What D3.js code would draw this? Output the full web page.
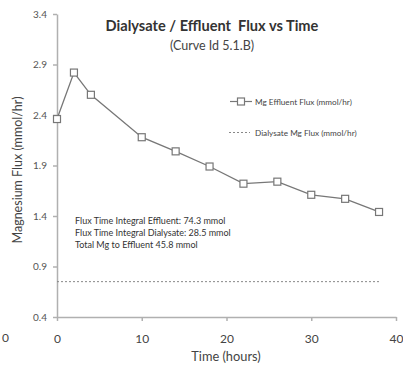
<!DOCTYPE html>
<html><head><meta charset="utf-8">
<script src="https://cdn.jsdelivr.net/npm/d3@7"></script>
<style>html,body{margin:0;padding:0;background:#fff;}svg{display:block;font-family:Lato,"Open Sans",sans-serif;}</style>
</head><body>
<script>
const times = [0, 2, 4, 10, 14, 18, 22, 26, 30, 34, 38];
const effluentFlux = [2.36, 2.82, 2.60, 2.18, 2.04, 1.89, 1.72, 1.74, 1.61, 1.57, 1.44];
const dialysateTimes = [0, 38];
const dialysateFlux = [0.75, 0.75];
const xTicks = [0, 10, 20, 30, 40];
const yTicks = [0.4, 0.9, 1.4, 1.9, 2.4, 2.9, 3.4];
const notes = ["Flux Time Integral Effluent: 74.3 mmol", "Flux Time Integral Dialysate: 28.5 mmol", "Total Mg to Effluent 45.8 mmol"];

const W = 403, H = 368;
const svg = d3.select("body").append("svg").attr("width", W).attr("height", H);
const x = d3.scaleLinear().domain([0, 40]).range([57, 396]);
const y = d3.scaleLinear().domain([0.4, 3.4]).range([317, 14]);
const axisCol = "#b0b0b0", textCol = "#444";

// x axis
const xa = svg.append("g").attr("transform", `translate(0,${y(0.4)})`)
  .call(d3.axisBottom(x).tickValues(xTicks).tickSize(4).tickSizeOuter(0).tickPadding(13));
xa.select(".domain").attr("stroke", axisCol).attr("stroke-width", 1.5);
xa.selectAll(".tick line").attr("stroke", axisCol).attr("stroke-width", 1.5);
xa.selectAll(".tick text").attr("fill", textCol).attr("font-size", 12).attr("font-family", "Lato, sans-serif");

// y axis
const ya = svg.append("g").attr("transform", `translate(${x(0)},0)`)
  .call(d3.axisLeft(y).tickValues(yTicks).tickFormat(d3.format(".1f")).tickSize(4).tickSizeOuter(0).tickPadding(6));
ya.select(".domain").attr("stroke", axisCol).attr("stroke-width", 1.5);
ya.selectAll(".tick line").attr("stroke", axisCol).attr("stroke-width", 1.5);
ya.selectAll(".tick text").attr("fill", "#555").attr("font-size", 10).attr("font-family", "Lato, sans-serif");

// stray "0" from neighbouring figure at left edge
svg.append("text").attr("x", 9).attr("y", y(0.4) + 25).attr("text-anchor", "end")
  .attr("font-size", 12).attr("fill", textCol).text("0");

// dialysate dotted line
const pts2 = dialysateTimes.map((t, i) => [t, dialysateFlux[i]]);
svg.append("path").datum(pts2)
  .attr("d", d3.line().x(d => x(d[0])).y(d => y(d[1])))
  .attr("fill", "none").attr("stroke", "#888").attr("stroke-width", 1).attr("stroke-dasharray", "2,2");

// effluent line
const pts = times.map((t, i) => [t, effluentFlux[i]]);
svg.append("path").datum(pts)
  .attr("d", d3.line().x(d => x(d[0])).y(d => y(d[1])))
  .attr("fill", "none").attr("stroke", "#777").attr("stroke-width", 1.3);
svg.selectAll("rect.pt").data(pts).enter().append("rect")
  .attr("x", d => x(d[0]) - 3.5).attr("y", d => y(d[1]) - 3.5)
  .attr("width", 7).attr("height", 7)
  .attr("fill", "#fff").attr("stroke", "#777").attr("stroke-width", 1.2);

// titles
svg.append("text").attr("x", 212).attr("y", 31).attr("text-anchor", "middle")
  .attr("font-size", 14.6).attr("font-weight", "bold").attr("fill", "#333")
  .attr("xml:space", "preserve").style("white-space", "pre")
  .text("Dialysate / Effluent  Flux vs Time");
svg.append("text").attr("x", 212).attr("y", 49.5).attr("text-anchor", "middle")
  .attr("font-size", 12.5).attr("fill", "#444").text("(Curve Id 5.1.B)");

// axis titles
svg.append("text").attr("x", 226).attr("y", 361).attr("text-anchor", "middle")
  .attr("font-size", 12.8).attr("fill", textCol).text("Time (hours)");
svg.append("text").attr("transform", `translate(22,170) rotate(-90)`).attr("text-anchor", "middle")
  .attr("font-size", 12.5).attr("fill", textCol).text("Magnesium Flux (mmol/hr)");

// legend
const lg = svg.append("g");
lg.append("line").attr("x1", 230).attr("x2", 252).attr("y1", 101.5).attr("y2", 101.5).attr("stroke", "#777").attr("stroke-width", 1.2);
lg.append("rect").attr("x", 237.5).attr("y", 98).attr("width", 7).attr("height", 7).attr("fill", "#fff").attr("stroke", "#777").attr("stroke-width", 1.2);
lg.append("text").attr("x", 255).attr("y", 104.5).attr("font-size", 8.2).attr("fill", "#444").text("Mg Effluent Flux (mmol/hr)");
lg.append("line").attr("x1", 229).attr("x2", 250).attr("y1", 132.5).attr("y2", 132.5).attr("stroke", "#888").attr("stroke-width", 1).attr("stroke-dasharray", "2,2");
lg.append("text").attr("x", 255).attr("y", 135.5).attr("font-size", 8.2).attr("fill", "#444").text("Dialysate Mg Flux (mmol/hr)");

// notes
svg.selectAll("text.note").data(notes).enter().append("text")
  .attr("x", 75).attr("y", (d, i) => 224 + i * 12)
  .attr("font-size", 9).attr("fill", "#333").text(d => d);
</script>
</body></html>
